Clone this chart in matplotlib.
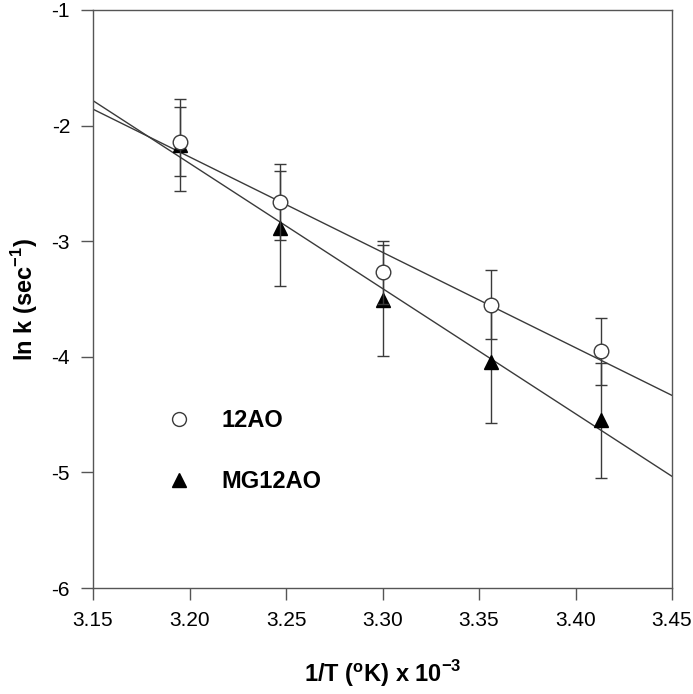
import numpy as np
import matplotlib
matplotlib.use('Agg')
import matplotlib.pyplot as plt
from matplotlib.lines import Line2D

plt.rcParams['font.family'] = ['Liberation Sans', 'DejaVu Sans']
plt.rcParams['mathtext.fontset'] = 'custom'
plt.rcParams['mathtext.rm'] = 'Liberation Sans'
plt.rcParams['mathtext.bf'] = 'Liberation Sans:bold'
plt.rcParams['axes.unicode_minus'] = False

# --- data ---
inv_T = [3.195, 3.247, 3.300, 3.356, 3.413]
lnk_12ao = [-2.14, -2.66, -3.27, -3.55, -3.95]
err_12ao = [0.30, 0.33, 0.27, 0.30, 0.29]
lnk_mg12ao = [-2.17, -2.89, -3.51, -4.045, -4.55]
err_mg12ao = [0.40, 0.50, 0.48, 0.53, 0.50]
x_ticks = [3.15, 3.20, 3.25, 3.30, 3.35, 3.40, 3.45]
y_ticks = [-6, -5, -4, -3, -2, -1]

grey = '#3a3a3a'

fig = plt.figure(figsize=(6.93, 6.94), dpi=100)
ax = fig.add_axes([0.1342, 0.1527, 0.8355, 0.8329])

# linear regression lines over the full x range
xx = np.array([3.15, 3.45])
for y in (lnk_12ao, lnk_mg12ao):
    p = np.polyfit(inv_T, y, 1)
    ax.plot(xx, np.polyval(p, xx), color=grey, lw=1.0, zorder=2)

ax.errorbar(inv_T, lnk_mg12ao, yerr=err_mg12ao, fmt='^', color=grey,
            mfc='black', mec='black', ms=10.5, capsize=4.6, elinewidth=1.0,
            capthick=1.0, zorder=3)
ax.errorbar(inv_T, lnk_12ao, yerr=err_12ao, fmt='o', color=grey,
            mfc='white', mec=grey, ms=10.5, capsize=4.6, elinewidth=1.0,
            capthick=1.0, zorder=4)

ax.set_xlim(3.15, 3.45)
ax.set_ylim(-6, -1)
ax.set_xticks(x_ticks)
ax.set_xticklabels(['%.2f' % v for v in x_ticks])
ax.set_yticks(y_ticks)
ax.set_yticklabels([str(v) for v in y_ticks])
ax.tick_params(direction='out', length=8.5, width=1.0, color='#555555',
               labelsize=15, pad=8, top=False, right=False)
for s in ax.spines.values():
    s.set_color('#555555')
    s.set_linewidth(1.0)

ax.set_xlabel(r'1/T ($\mathbf{^o}$K) x 10$^{\mathbf{-3}}$', fontsize=17,
              fontweight='bold', labelpad=20)
ax.set_ylabel(r'ln k (sec$^{\mathbf{-1}}$)', fontsize=17,
              fontweight='bold', labelpad=8)

handles = [Line2D([], [], ls='none', marker='o', mfc='white', mec=grey, ms=10),
           Line2D([], [], ls='none', marker='^', mfc='black', mec='black', ms=10)]
ax.legend(handles, ['12AO', 'MG12AO'], loc='upper left',
          bbox_to_anchor=(0.108, 0.33), frameon=False, numpoints=1,
          handlelength=1.0, handletextpad=1.3, labelspacing=1.6,
          borderpad=0, prop={'size': 17, 'weight': 'bold'})

fig.savefig('out.png', dpi=100, facecolor='white')
